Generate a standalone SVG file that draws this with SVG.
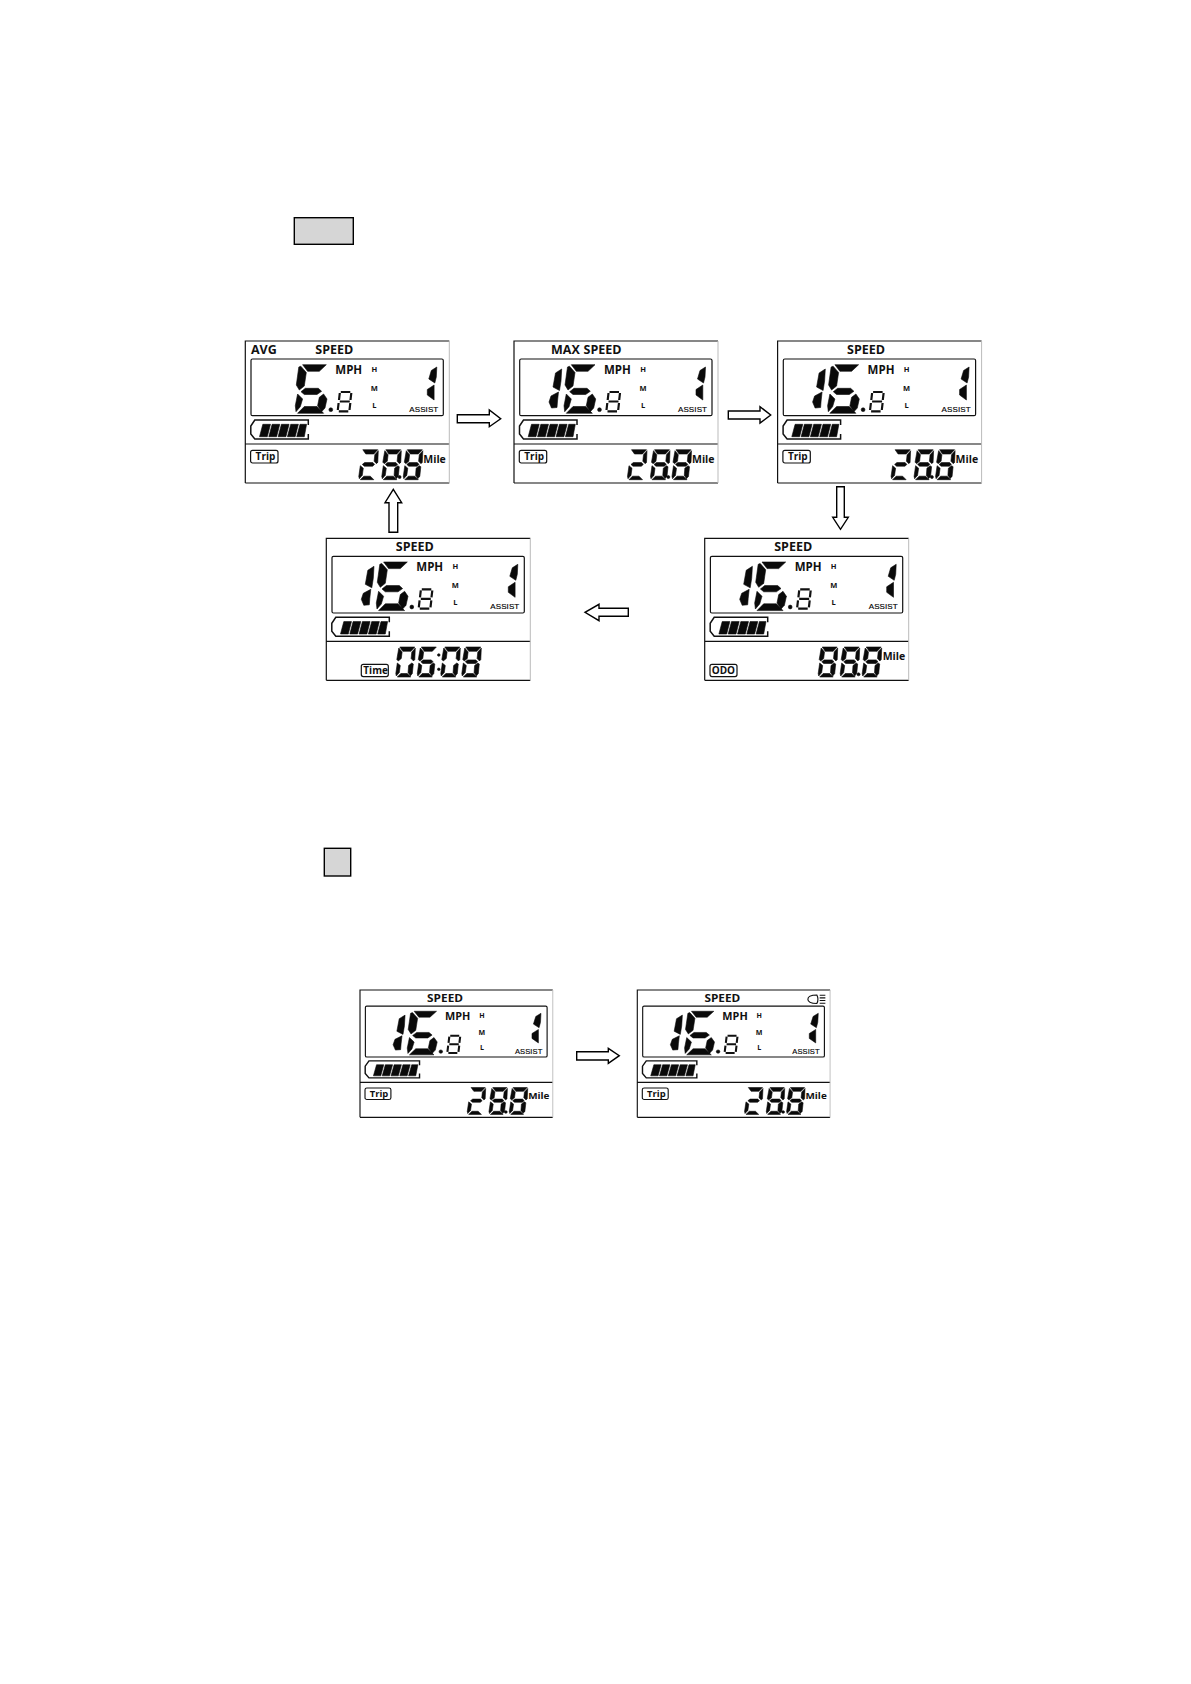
<svg xmlns="http://www.w3.org/2000/svg" width="1191" height="1684" viewBox="0 0 1191 1684">
<style>
.t{font-family:"Open Sans","Noto Sans","Liberation Sans",sans-serif;font-weight:700;fill:#111}
.s{font-size:12.5px}
.mph{font-size:11.5px}
.hml{font-size:7.5px}
.as{font-family:"Liberation Sans",sans-serif;font-weight:400;font-size:8px;fill:#000;stroke:#000;stroke-width:.15px;letter-spacing:.1px}
.tag{font-size:10px}
.mi{font-size:10.5px}
.btn{fill:#d6d6d6;stroke:#000;stroke-width:1.4}
.arrow{fill:#fff;stroke:#000;stroke-width:1.4}
.line{fill:none;stroke:#111;stroke-width:1.2}
.edge{fill:none;stroke:#bbb;stroke-width:1}
.seg{fill:#0a0a0a;stroke:#0a0a0a;stroke-width:.6;stroke-linejoin:round}
.sm{fill:none;stroke:#111;stroke-width:2.2}
</style>
<defs>
<path id="mt" d="M3.5 0H18.5L14.5 4.3H6.5Z"/>
<path id="mul" d="M2.5 1L5.8 5L5 11.5L2 14L.5 12.5Z"/>
<path id="mur" d="M19 1L15.5 5L14.8 11.5L17.2 14L18.5 12.5Z"/>
<path id="mm" d="M3 14.7L5.3 12.9H13.5L15.3 14.7L13.3 16.5H5Z"/>
<path id="mll" d="M1 16L4 18.5L3 25.5L0 29L-.5 26.5Z"/>
<path id="mlr" d="M15.5 16L17 17L16 26.5L14 29L11.8 25.5L12.3 18.5Z"/>
<path id="mb" d="M1 30L4.5 26.5H11L14.5 30Z"/>
<g id="d8"><use href="#mt"/><use href="#mul"/><use href="#mur"/><use href="#mm"/><use href="#mll"/><use href="#mlr"/><use href="#mb"/></g>
<g id="d2"><use href="#mt"/><use href="#mur"/><use href="#mm"/><use href="#mll"/><use href="#mb"/></g>
<g id="d0"><use href="#mt"/><use href="#mul"/><use href="#mur"/><use href="#mll"/><use href="#mlr"/><use href="#mb"/></g>
<g id="d6"><use href="#mt"/><use href="#mul"/><use href="#mm"/><use href="#mll"/><use href="#mlr"/><use href="#mb"/></g>
<g id="big6" class="seg">
<path d="M7.3 .7H31L24 7.3H12.3Z"/>
<path d="M3.5 3L5.5 2.2L11 8.5L9 22L4 26L1 21Z"/>
<path d="M5.7 27.7L10 24.3H23L26.3 27.3L21.7 30.5H9Z"/>
<path d="M2.3 30L7.3 35L5 42.7L.7 47.7L0 41.7Z"/>
<path d="M28.3 30L31.7 35L29.7 44L26.3 47.7L22.3 41.7L24 33.3Z"/>
<path d="M2.3 49.3L9 42.5H21.7L28.3 49.3Z"/>
</g>
<g id="lcd">
<path class="line" d="M0 142V0H204M0 103H204M0 142H204"/>
<path class="edge" d="M204 0V142"/>
<rect class="line" x="5.7" y="18" width="192.3" height="56.7" rx="1.5"/>
<path class="seg" d="M191.5 26L186 29.5L183.5 38L189.5 42L191 36ZM188.8 44L182 48.5L182 54L188.8 59Z"/>
<use href="#big6" x="50" y="23"/>
<path class="sm" d="M95.5 51H105M94.5 52L93.7 59M106 52L105.2 59M94.5 60.5H104.5M93.3 62L92.5 69M105 62L104.2 69M93.5 70.3H103"/>
<circle class="seg" cx="85.5" cy="68.7" r="1.9"/>
<path class="line" d="M63 84V79H9.5L5.5 85V93L9.5 98H63V93" style="stroke-width:1.5"/>
<path class="seg" d="M17.5 83.3H25.2L22 95.7H14.2ZM26.8 83.3H34.5L31.3 95.7H23.5ZM36.1 83.3H43.8L40.6 95.7H32.8ZM45.4 83.3H53.1L49.9 95.7H42.1ZM54.7 83.3H61.3L59 95.7H51.4Z"/>
</g>
<path id="one" class="seg" d="M47.7 28L41.5 32L39 46L45.5 49.5L47 40ZM44.5 51L37 55L35 61L37.5 67L43 66.5L43.5 60Z"/>
<g id="trip"><rect class="line" x="5.3" y="109.3" width="27.4" height="12.7" rx="2"/><g class="seg"><use href="#d2" x="114" y="108.7"/><use href="#d8" x="137" y="108.7"/><circle cx="154.3" cy="136" r="1.5"/><use href="#d8" x="158.5" y="108.7"/></g></g>
</defs>

<g id="button-top"><rect class="btn" x="294.3" y="217.7" width="59" height="26.6"/></g>
<g id="button-mid"><rect class="btn" x="324.3" y="848.3" width="26.4" height="27.7"/></g>

<g id="panel-avg" transform="translate(245.3,341)">
<use href="#lcd"/><use href="#trip"/>
<text class="t s" x="5.7" y="13">AVG</text><text class="t s" x="89" y="13" text-anchor="middle">SPEED</text>
<text class="t mph" x="90" y="33">MPH</text><text class="t hml" x="129" y="31" text-anchor="middle">H</text><text class="t hml" x="129" y="50" text-anchor="middle">M</text><text class="t hml" x="129" y="67" text-anchor="middle">L</text>
<text class="as" x="164" y="71">ASSIST</text><text class="t tag" x="10.3" y="119.3">Trip</text><text class="t mi" x="178" y="122">Mile</text>
</g>
<g id="panel-max" transform="translate(514,341)">
<use href="#lcd"/><use href="#one"/><use href="#trip"/>
<text class="t s" x="37" y="13">MAX</text><text class="t s" x="88.5" y="13" text-anchor="middle">SPEED</text>
<text class="t mph" x="90" y="33">MPH</text><text class="t hml" x="129" y="31" text-anchor="middle">H</text><text class="t hml" x="129" y="50" text-anchor="middle">M</text><text class="t hml" x="129" y="67" text-anchor="middle">L</text>
<text class="as" x="164" y="71">ASSIST</text><text class="t tag" x="10.3" y="119.3">Trip</text><text class="t mi" x="178" y="122">Mile</text>
</g>
<g id="panel-speed" transform="translate(777.6,341)">
<use href="#lcd"/><use href="#one"/><use href="#trip"/>
<text class="t s" x="88.5" y="13" text-anchor="middle">SPEED</text>
<text class="t mph" x="90" y="33">MPH</text><text class="t hml" x="129" y="31" text-anchor="middle">H</text><text class="t hml" x="129" y="50" text-anchor="middle">M</text><text class="t hml" x="129" y="67" text-anchor="middle">L</text>
<text class="as" x="164" y="71">ASSIST</text><text class="t tag" x="10.3" y="119.3">Trip</text><text class="t mi" x="178" y="122">Mile</text>
</g>
<g id="panel-odo" transform="translate(704.7,538.3)">
<use href="#lcd"/><use href="#one"/>
<rect class="line" x="5.3" y="126" width="27" height="12.3" rx="2"/>
<g class="seg"><use href="#d8" x="114" y="108.7"/><use href="#d8" x="136" y="108.7"/><circle cx="153.8" cy="136" r="1.5"/><use href="#d8" x="158" y="108.7"/></g>
<text class="t s" x="88.5" y="13" text-anchor="middle">SPEED</text>
<text class="t mph" x="90" y="33">MPH</text><text class="t hml" x="129" y="31" text-anchor="middle">H</text><text class="t hml" x="129" y="50" text-anchor="middle">M</text><text class="t hml" x="129" y="67" text-anchor="middle">L</text>
<text class="as" x="164" y="71">ASSIST</text><text class="t tag" x="7" y="135.7">ODO</text><text class="t mi" x="178" y="122">Mile</text>
</g>
<g id="panel-time" transform="translate(326.3,538.3)">
<use href="#lcd"/><use href="#one"/>
<rect class="line" x="35" y="126" width="27" height="12.3" rx="2"/>
<g class="seg"><use href="#d0" x="70" y="108.7"/><use href="#d6" x="91.5" y="108.7"/><circle cx="112.5" cy="116.7" r="1.3"/><circle cx="112.5" cy="131" r="1.3"/><use href="#d0" x="115" y="108.7"/><use href="#d8" x="136" y="108.7"/></g>
<text class="t s" x="88.5" y="13" text-anchor="middle">SPEED</text>
<text class="t mph" x="90" y="33">MPH</text><text class="t hml" x="129" y="31" text-anchor="middle">H</text><text class="t hml" x="129" y="50" text-anchor="middle">M</text><text class="t hml" x="129" y="67" text-anchor="middle">L</text>
<text class="as" x="164" y="71">ASSIST</text><text class="t tag" x="37" y="135.7">Time</text>
</g>
<g id="panel-light-off" transform="translate(360,990) scale(.945,.897)">
<use href="#lcd"/><use href="#one"/><use href="#trip"/>
<text class="t s" x="90" y="13" text-anchor="middle">SPEED</text>
<text class="t mph" x="90" y="33">MPH</text><text class="t hml" x="129" y="31" text-anchor="middle">H</text><text class="t hml" x="129" y="50" text-anchor="middle">M</text><text class="t hml" x="129" y="67" text-anchor="middle">L</text>
<text class="as" x="164" y="71">ASSIST</text><text class="t tag" x="10.3" y="119.3">Trip</text><text class="t mi" x="178" y="122">Mile</text>
</g>
<g id="panel-light-on" transform="translate(637.3,990) scale(.945,.897)">
<use href="#lcd"/><use href="#one"/><use href="#trip"/>
<path class="line" d="M190 5.5C183 5.5 180.5 8 180.5 10.3C180.5 12.5 183 15 190 15C191.5 12 191.5 8.5 190 5.5ZM193 5.8H199M193 8.8H199M193 11.8H199M193 14.8H199"/>
<text class="t s" x="90" y="13" text-anchor="middle">SPEED</text>
<text class="t mph" x="90" y="33">MPH</text><text class="t hml" x="129" y="31" text-anchor="middle">H</text><text class="t hml" x="129" y="50" text-anchor="middle">M</text><text class="t hml" x="129" y="67" text-anchor="middle">L</text>
<text class="as" x="164" y="71">ASSIST</text><text class="t tag" x="10.3" y="119.3">Trip</text><text class="t mi" x="178" y="122">Mile</text>
</g>

<g id="connectors">
<polygon class="arrow" points="457.3,414.7 489.3,414.7 489.3,410 500.7,418.7 489.3,426.7 489.3,422.7 457.3,422.7"/>
<polygon class="arrow" points="728.3,411 760,411 760,406.7 770.7,415 760,423 760,419 728.3,419"/>
<polygon class="arrow" points="389,532.3 389,502.7 385,502.7 393.3,489.3 401.7,502.7 397.7,502.7 397.7,532.3"/>
<polygon class="arrow" points="836.7,486.7 836.7,517.3 832.7,517.3 840.5,529.3 848.3,517.3 844.3,517.3 844.3,486.7"/>
<polygon class="arrow" points="628.3,608.3 599,608.3 599,604.3 585,612.3 599,620.7 599,616.3 628.3,616.3"/>
<polygon class="arrow" points="576.7,1051.7 608.3,1051.7 608.3,1048.3 619.3,1055.7 608.3,1063.3 608.3,1060 576.7,1060"/>
</g>
</svg>
